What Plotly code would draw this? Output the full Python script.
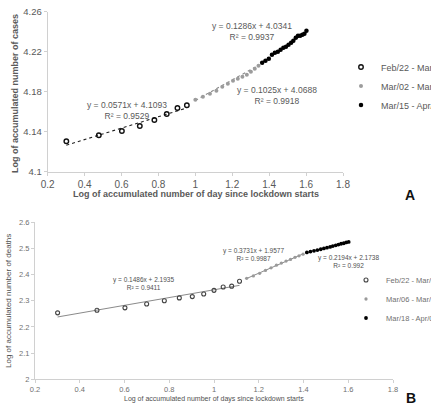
import plotly.graph_objects as go

# ---------------- Panel A: cases ----------------
a_x1 = [0.301, 0.477, 0.602, 0.699, 0.778, 0.845, 0.903, 0.954]
a_y1 = [4.1304, 4.1364, 4.1407, 4.1457, 4.1517, 4.1577, 4.1637, 4.1664]
a_x2 = [1.000, 1.041, 1.079, 1.114, 1.146, 1.176, 1.204, 1.230, 1.255, 1.279, 1.301, 1.322, 1.342]
a_y2 = [4.172, 4.175, 4.178, 4.181, 4.185, 4.188, 4.191, 4.193, 4.195, 4.197, 4.200, 4.203, 4.206]
a_x3 = [1.362, 1.380, 1.398, 1.415, 1.431, 1.447, 1.462, 1.477, 1.491, 1.505, 1.519, 1.531,
        1.544, 1.556, 1.568, 1.580, 1.591, 1.602]
a_y3 = [4.209, 4.211, 4.213, 4.217, 4.219, 4.220, 4.222, 4.224, 4.225, 4.227, 4.229, 4.231,
        4.234, 4.236, 4.236, 4.237, 4.238, 4.241]
a_names = ["Feb/22 - Mar/01", "Mar/02 - Mar/14", "Mar/15 - Apr/01"]
a_slope = [0.0571, 0.1025, 0.1286]
a_icpt = [4.1093, 4.0688, 4.0341]
a_r2 = ["0.9529", "0.9918", "0.9937"]
a_xticks = [0.2, 0.4, 0.6, 0.8, 1.0, 1.2, 1.4, 1.6, 1.8]
a_xticklabels = ["0.2", "0.4", "0.6", "0.8", "1", "1.2", "1.4", "1.6", "1.8"]
a_yticks = [4.1, 4.14, 4.18, 4.22, 4.26]
a_yticklabels = ["4.1", "4.14", "4.18", "4.22", "4.26"]

# ---------------- Panel B: deaths ----------------
b_x1 = [0.301, 0.477, 0.602, 0.699, 0.778, 0.845, 0.903, 0.954, 1.000, 1.041, 1.079, 1.114]
b_y1 = [2.254, 2.264, 2.273, 2.288, 2.300, 2.311, 2.316, 2.326, 2.340, 2.353, 2.356, 2.375]
b_x2 = [1.146, 1.176, 1.204, 1.230, 1.255, 1.279, 1.301, 1.322, 1.342, 1.362, 1.380, 1.398]
b_y2 = [2.386, 2.395, 2.405, 2.416, 2.426, 2.436, 2.444, 2.452, 2.458, 2.466, 2.472, 2.478]
b_x3 = [1.415, 1.431, 1.447, 1.462, 1.477, 1.491, 1.505, 1.519, 1.531, 1.544, 1.556, 1.568,
        1.580, 1.591, 1.602]
b_y3 = [2.485, 2.488, 2.491, 2.494, 2.497, 2.500, 2.503, 2.506, 2.509, 2.512, 2.515, 2.518,
        2.520, 2.523, 2.525]
b_names = ["Feb/22 - Mar/05", "Mar/06 - Mar/17", "Mar/18 - Apr/01"]
b_slope = [0.1486, 0.3731, 0.2194]
b_icpt = [2.1935, 1.9577, 2.1738]
b_r2 = ["0.9411", "0.9987", "0.992"]
b_xticks = [0.2, 0.4, 0.6, 0.8, 1.0, 1.2, 1.4, 1.6, 1.8]
b_xticklabels = ["0.2", "0.4", "0.6", "0.8", "1", "1.2", "1.4", "1.6", "1.8"]
b_yticks = [2.0, 2.1, 2.2, 2.3, 2.4, 2.5, 2.6]
b_yticklabels = ["2", "2.1", "2.2", "2.3", "2.4", "2.5", "2.6"]

W, H = 431, 404
FONT = "Liberation Sans, Arial, sans-serif"
TXT = "#595959"
AX = "#d0d0d0"

def px(x):
    return x / W

def py(y):
    return 1 - y / H

fig = go.Figure()

# ---- Panel A traces ----
a_sets = [(a_x1, a_y1), (a_x2, a_y2), (a_x3, a_y3)]
a_line_col = ["#222222", "#888888", "#111111"]
for i, (xs, ys) in enumerate(a_sets):
    fig.add_trace(go.Scatter(
        x=[xs[0], xs[-1]],
        y=[a_slope[i] * xs[0] + a_icpt[i], a_slope[i] * xs[-1] + a_icpt[i]],
        mode="lines", line=dict(color=a_line_col[i], width=1.1, dash="dot"),
        showlegend=False, hoverinfo="skip", xaxis="x", yaxis="y"))
a_marker = [
    dict(symbol="circle-open", size=4.5, color="#111111", line=dict(width=1.4, color="#111111")),
    dict(symbol="circle", size=4, color="#9c9c9c"),
    dict(symbol="circle", size=4.5, color="#000000"),
]
for i, (xs, ys) in enumerate(a_sets):
    fig.add_trace(go.Scatter(x=xs, y=ys, mode="markers", name=a_names[i],
                             marker=a_marker[i], xaxis="x", yaxis="y", legend="legend"))

# ---- Panel B traces ----
b_sets = [(b_x1, b_y1), (b_x2, b_y2), (b_x3, b_y3)]
for i, (xs, ys) in enumerate(b_sets):
    fig.add_trace(go.Scatter(
        x=[xs[0], xs[-1]],
        y=[b_slope[i] * xs[0] + b_icpt[i], b_slope[i] * xs[-1] + b_icpt[i]],
        mode="lines", line=dict(color="#8a8a8a", width=1),
        showlegend=False, hoverinfo="skip", xaxis="x2", yaxis="y2"))
b_marker = [
    dict(symbol="circle-open", size=4, color="#444444", line=dict(width=1.1, color="#444444")),
    dict(symbol="circle", size=3.3, color="#9a9a9a"),
    dict(symbol="circle", size=3.8, color="#000000"),
]
for i, (xs, ys) in enumerate(b_sets):
    fig.add_trace(go.Scatter(x=xs, y=ys, mode="markers", name=b_names[i],
                             marker=b_marker[i], xaxis="x2", yaxis="y2", legend="legend2"))

axis_common = dict(showgrid=False, zeroline=False, showline=True, linecolor=AX, linewidth=1,
                   ticks="outside", ticklen=3, tickcolor=AX, mirror=False)

fig.update_layout(
    width=W, height=H,
    margin=dict(l=0, r=0, t=0, b=0, autoexpand=False),
    paper_bgcolor="white", plot_bgcolor="white",
    font=dict(family=FONT, color=TXT),
    xaxis=dict(domain=[px(47.7), px(343)], range=[0.2, 1.8], tickvals=a_xticks,
               ticktext=a_xticklabels, tickfont=dict(size=10, color=TXT), anchor="y",
               **axis_common),
    yaxis=dict(domain=[py(171.7), py(11.7)], range=[4.1, 4.26], tickvals=a_yticks,
               ticktext=a_yticklabels, tickfont=dict(size=9.5, color=TXT), anchor="x",
               **axis_common),
    xaxis2=dict(domain=[px(35), px(393)], range=[0.2, 1.8], tickvals=b_xticks,
                ticktext=b_xticklabels, tickfont=dict(size=7.5, color="#707070"), anchor="y2",
                **axis_common),
    yaxis2=dict(domain=[py(379.3), py(222.3)], range=[2.0, 2.6], tickvals=b_yticks,
                ticktext=b_yticklabels, tickfont=dict(size=7.5, color="#707070"), anchor="x2",
                **axis_common),
    legend=dict(x=px(341), y=py(86), xanchor="left", yanchor="middle",
                bgcolor="rgba(0,0,0,0)", font=dict(size=9, color=TXT), itemwidth=30,
                tracegroupgap=0),
    legend2=dict(x=px(346), y=py(299), xanchor="left", yanchor="middle",
                 bgcolor="rgba(0,0,0,0)", font=dict(size=7.5, color="#707070"), itemwidth=30,
                 tracegroupgap=0),
    showlegend=True,
)

ann = []

def add_text(text, x, y, size, color, angle=0):
    ann.append(dict(text=text, x=px(x), y=py(y), xref="paper", yref="paper",
                    xanchor="center", yanchor="middle", showarrow=False, textangle=angle,
                    font=dict(size=size, color=color)))

# axis titles
add_text("<b>Log of accumulated number of day since lockdown starts</b>", 196, 194, 9, TXT)
add_text("<b>Log of accumulated number of cases</b>", 15, 94, 9, TXT, -90)
add_text("Log of accumulated number of days since lockdown starts", 214, 399, 7, "#505050")
add_text("Log of accumulated number of deaths", 8, 301, 8, "#505050", -90)
# panel letters
add_text("<b>A</b>", 410, 195, 14, "#111111")
add_text("<b>B</b>", 411, 398, 14, "#111111")

# regression equations (positions in pixels)
a_eq_pos = [(127, 110.5), (276.7, 95), (251.7, 31.5)]
for i in range(3):
    add_text(f"y = {a_slope[i]}x + {a_icpt[i]}<br>R² = {a_r2[i]}",
             a_eq_pos[i][0], a_eq_pos[i][1], 8.5, TXT)
b_eq_pos = [(143, 283.5), (253, 254), (348, 261.5)]
for i in range(3):
    add_text(f"y = {b_slope[i]}x + {b_icpt[i]}<br>R² = {b_r2[i]}",
             b_eq_pos[i][0], b_eq_pos[i][1], 6.5, "#505050")

fig.update_layout(annotations=ann)
fig.write_html(
    "out.html",
    config={"displayModeBar": False},
    post_script="document.body.style.margin='0';document.body.style.padding='0';"
                "document.body.style.overflow='hidden';",
)
